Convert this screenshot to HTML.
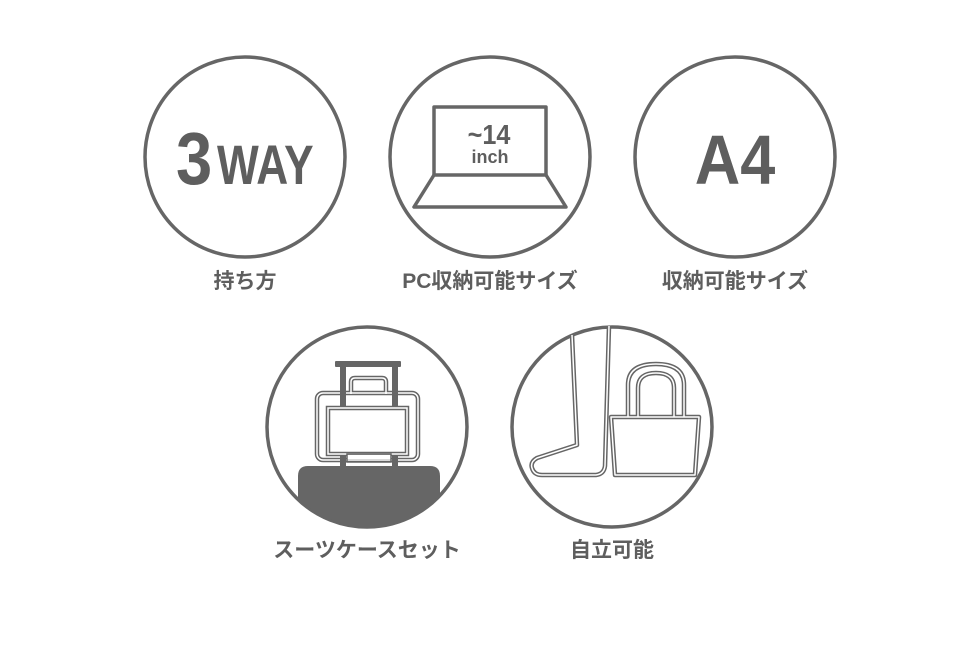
<!DOCTYPE html>
<html><head><meta charset="utf-8"><style>
html,body{margin:0;padding:0;background:#fff;}
svg{display:block}
text{font-family:"Liberation Sans","Noto Sans CJK JP",sans-serif;font-weight:bold;fill:#5e5e5e}
</style></head><body>
<svg width="980" height="645" viewBox="0 0 980 645" xmlns="http://www.w3.org/2000/svg">
<defs><clipPath id="c4"><circle cx="367" cy="427" r="99"/></clipPath></defs>
<g fill="none" stroke="#666" stroke-width="3.5">
<circle cx="245" cy="157" r="100"/>
<circle cx="490" cy="157" r="100"/>
<circle cx="735" cy="157" r="100"/>
<circle cx="367" cy="427" r="100"/>
<circle cx="612" cy="427" r="100"/>
</g>
<!-- 3WAY -->
<text x="176" y="184" font-size="74" transform="translate(176,0) scale(0.88,1) translate(-176,0)">3</text>
<text x="217" y="184" font-size="56" transform="translate(217,0) scale(0.79,1) translate(-217,0)">WAY</text>
<!-- A4 -->
<text x="735" y="184" font-size="70" text-anchor="middle" transform="translate(735,0) scale(0.9,1) translate(-735,0)">A4</text>
<!-- laptop -->
<g fill="none" stroke="#666" stroke-width="3.5" stroke-linejoin="round">
<rect x="434" y="107" width="112" height="68"/>
<path d="M434 175 L414 207 L566 207 L546 175"/>
</g>
<text x="489" y="144" font-size="28" text-anchor="middle" transform="translate(489,0) scale(0.9,1) translate(-489,0)">~14</text>
<text x="490" y="163" font-size="18" text-anchor="middle">inch</text>
<!-- suitcase -->
<g clip-path="url(#c4)">
<path d="M298 476 Q298 466 308 466 L430 466 Q440 466 440 476 L440 540 L298 540 Z" fill="#666"/>
</g>
<g fill="none" stroke="#666" stroke-width="4.5">
<rect x="317" y="393" width="101" height="67" rx="6"/>
<path d="M351 394 L351 382 Q351 378 355 378 L382 378 Q386 378 386 382 L386 394"/>
</g>
<g fill="none" stroke="#fff" stroke-width="1.5">
<rect x="317" y="393" width="101" height="67" rx="6"/>
<path d="M351 394 L351 382 Q351 378 355 378 L382 378 Q386 378 386 382 L386 394"/>
</g>
<g fill="#666">
<rect x="335" y="361" width="66" height="6" rx="1"/>
<rect x="340" y="366" width="6" height="101"/>
<rect x="392" y="366" width="6" height="101"/>
</g>
<rect x="328" y="408" width="79" height="46" fill="#fff" stroke="#666" stroke-width="4.5"/>
<rect x="328" y="408" width="79" height="46" fill="none" stroke="#fff" stroke-width="1.5"/>
<rect x="347" y="455" width="44" height="4" fill="#fff"/>
<rect x="347" y="454" width="44" height="8" fill="none" stroke="#666" stroke-width="1.5"/>
<!-- foot & bag -->
<g fill="none" stroke="#666" stroke-width="4.5" stroke-linejoin="round">
<path d="M572 335 L577 445 L537 458 Q530 462 532 468 Q534 475 542 475 L596 475 Q604 474 605 466 L609 326"/>
<path d="M611 417 L699 417 L695 475 L615 475 Z"/>
<path d="M628 417 L628 385 Q628 364 656 364 Q684 364 684 385 L684 417"/>
<path d="M638 417 L638 388 Q638 373 656 373 Q674 373 674 388 L674 417"/>
</g>
<g fill="none" stroke="#fff" stroke-width="1.5" stroke-linejoin="round">
<path d="M572 335 L577 445 L537 458 Q530 462 532 468 Q534 475 542 475 L596 475 Q604 474 605 466 L609 326"/>
<path d="M611 417 L699 417 L695 475 L615 475 Z"/>
<path d="M628 417 L628 385 Q628 364 656 364 Q684 364 684 385 L684 417"/>
<path d="M638 417 L638 388 Q638 373 656 373 Q674 373 674 388 L674 417"/>
</g>
<!-- labels -->
<text x="245" y="288" font-size="21" text-anchor="middle">持ち方</text>
<text x="490" y="288" font-size="21" text-anchor="middle">PC収納可能サイズ</text>
<text x="735" y="288" font-size="21" text-anchor="middle">収納可能サイズ</text>
<text x="367" y="557" font-size="21" text-anchor="middle">スーツケースセット</text>
<text x="612" y="557" font-size="21" text-anchor="middle">自立可能</text>
</svg>
</body></html>
